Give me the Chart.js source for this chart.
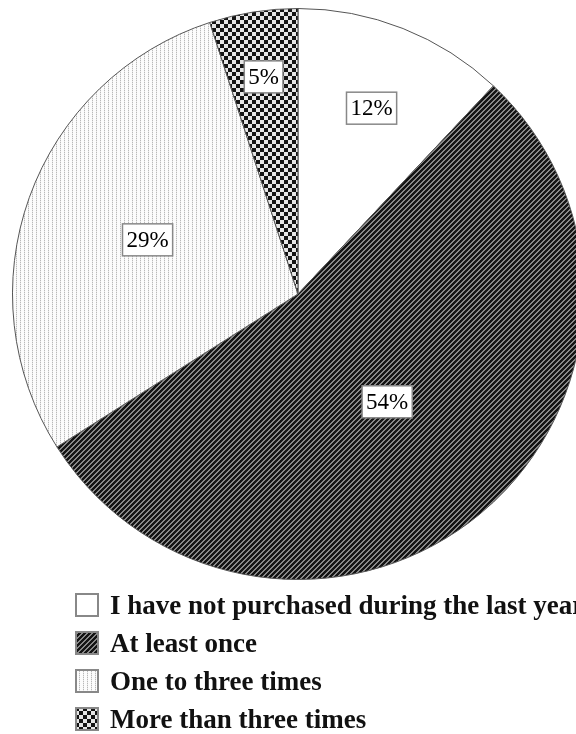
<!DOCTYPE html>
<html>
<head>
<meta charset="utf-8">
<script src="https://cdn.jsdelivr.net/npm/chart.js@4.4.0/dist/chart.umd.min.js"></script>
<style>
    body { margin: 0; background: #fff; width: 576px; height: 734px; overflow: hidden; position: relative; }
    #wrap { position: absolute; left: 0; top: 0; width: 596px; height: 584px; }
    #legend { position: absolute; left: 75px; top: 586px; white-space: nowrap;
        font-family: "Liberation Serif", "DejaVu Serif", serif; font-weight: bold; font-size: 27px; color: #111; }
    .row { height: 38px; display: flex; align-items: center; }
    .row canvas { margin-right: 11px; }
</style>
</head>
<body>
<div id="wrap"><canvas id="myPie" width="596" height="584"></canvas></div>
<div id="legend"></div>
<script>
let categorias = ['I have not purchased during the last year', 'At least once', 'One to three times', 'More than three times'];
let porcentajes = [12, 54, 29, 5];
let etiquetas = ['12%', '54%', '29%', '5%'];

// patrones en blanco y negro, como en el original
function makePattern(kind){
    let tile = document.createElement('canvas');
    let size = kind === 'checker' ? 8 : (kind === 'stripes' ? 5 : 4);
    tile.width = size;
    tile.height = size;
    let tctx = tile.getContext('2d');
    let img = tctx.createImageData(size, size);
    for(let y = 0; y < size; y++){
        for(let x = 0; x < size; x++){
            let v = 255;
            if(kind === 'stripes'){
                v = ((x + y) % 5) < 3 ? 20 : 135;
            } else if(kind === 'dots'){
                v = (x % 4 === 0 && y % 2 === 0) ? 185 : (x % 4 === 0 ? 232 : 252);
            } else if(kind === 'checker'){
                v = ((Math.floor(x / 4) + Math.floor(y / 4)) % 2 === 0) ? 20 : 230;
            }
            let i = (y * size + x) * 4;
            img.data[i] = v; img.data[i+1] = v; img.data[i+2] = v; img.data[i+3] = 255;
        }
    }
    tctx.putImageData(img, 0, 0);
    return tctx.createPattern(tile, 'repeat');
}

let patrones = [makePattern('white'), makePattern('stripes'), makePattern('dots'), makePattern('checker')];

const boxedLabels = {
    id: 'boxedLabels',
    afterDatasetsDraw(chart, args, opts){
        let ctx = chart.ctx;
        let arcs = chart.getDatasetMeta(0).data;
        ctx.save();
        ctx.font = '23px "Liberation Serif", serif';
        ctx.textAlign = 'center';
        ctx.textBaseline = 'middle';
        arcs.forEach((arc, i) => {
            let mid = (arc.startAngle + arc.endAngle) / 2;
            let r = arc.outerRadius * opts.radius[i];
            let x = arc.x + Math.cos(mid) * r;
            let y = arc.y + Math.sin(mid) * r;
            let w = ctx.measureText(etiquetas[i]).width + 8;
            let h = 32;
            ctx.fillStyle = '#fff';
            ctx.fillRect(x - w / 2, y - h / 2, w, h);
            ctx.strokeStyle = '#888';
            ctx.lineWidth = 1.5;
            ctx.strokeRect(x - w / 2, y - h / 2, w, h);
            ctx.fillStyle = '#000';
            ctx.fillText(etiquetas[i], x, y + 1);
        });
        ctx.restore();
    }
};

let ctx = document.getElementById('myPie');
new Chart(ctx, {
    type: 'pie',
    data: {
        labels: categorias,
        datasets: [{
            data: porcentajes,
            backgroundColor: patrones,
            borderColor: '#555',
            borderWidth: 1
        }]
    },
    options: {
        responsive: false,
        animation: false,
        events: [],
        layout: { padding: { left: 12, right: 12, top: 8, bottom: 4 } },
        plugins: {
            legend: { display: false },
            tooltip: { enabled: false },
            boxedLabels: { radius: [0.70, 0.49, 0.56, 0.77] }
        }
    },
    plugins: [boxedLabels]
});

// leyenda en HTML, una fila por categoria
let legendDiv = document.getElementById('legend');
categorias.forEach((cat, i) => {
    let row = document.createElement('div');
    row.classList.add('row');
    let box = document.createElement('canvas');
    box.width = 24;
    box.height = 24;
    let bctx = box.getContext('2d');
    bctx.fillStyle = patrones[i];
    bctx.fillRect(0, 0, 24, 24);
    bctx.strokeStyle = '#888';
    bctx.lineWidth = 2;
    bctx.strokeRect(1, 1, 22, 22);
    let span = document.createElement('span');
    span.textContent = cat;
    row.appendChild(box);
    row.appendChild(span);
    legendDiv.appendChild(row);
});
</script>
</body>
</html>
